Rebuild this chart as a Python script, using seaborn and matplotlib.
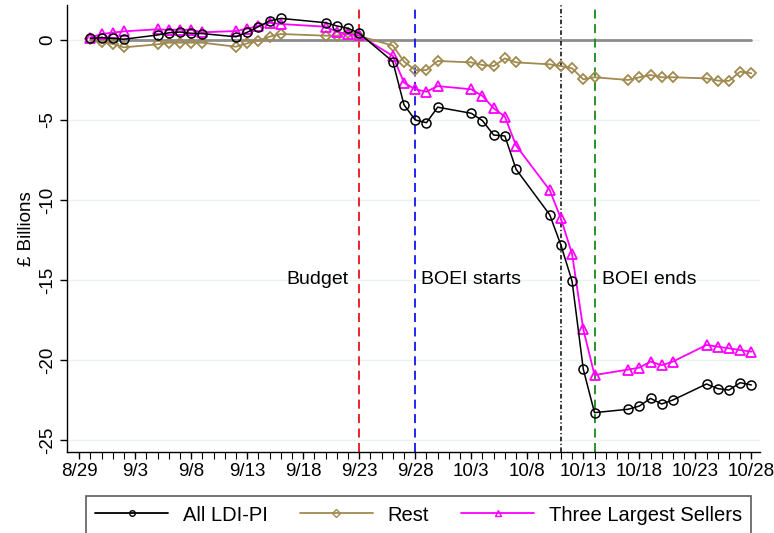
import pandas as pd
import matplotlib
matplotlib.use("Agg")
import matplotlib.pyplot as plt
from matplotlib.lines import Line2D
import seaborn as sns

YEAR = 2022

dates = ["8/30", "8/31", "9/1", "9/2", "9/5", "9/6", "9/7", "9/8", "9/9",
         "9/12", "9/13", "9/14", "9/15", "9/16", "9/20", "9/21", "9/22", "9/23",
         "9/26", "9/27", "9/28", "9/29", "9/30", "10/3", "10/4", "10/5", "10/6",
         "10/7", "10/10", "10/11", "10/12", "10/13", "10/14", "10/17", "10/18",
         "10/19", "10/20", "10/21", "10/24", "10/25", "10/26", "10/27", "10/28"]

all_ldi = [0.1, 0.15, 0.1, 0.05, 0.31, 0.45, 0.5, 0.42, 0.4,
           0.2, 0.48, 0.83, 1.19, 1.35, 1.08, 0.88, 0.73, 0.42,
           -1.35, -4.06, -5.0, -5.17, -4.2, -4.58, -5.04, -5.94, -6.0,
           -8.08, -10.92, -12.81, -15.08, -20.58, -23.29, -23.08, -22.88,
           -22.4, -22.75, -22.5, -21.5, -21.79, -21.88, -21.42, -21.56]

rest = [0.04, -0.1, -0.25, -0.46, -0.27, -0.17, -0.17, -0.17, -0.17,
        -0.42, -0.21, -0.04, 0.21, 0.375, 0.27, 0.27, 0.42, 0.25,
        -0.35, -1.35, -1.88, -1.88, -1.31, -1.4, -1.56, -1.63, -1.15,
        -1.4, -1.52, -1.63, -1.77, -2.46, -2.33, -2.5, -2.33,
        -2.19, -2.33, -2.33, -2.4, -2.54, -2.56, -1.98, -2.08]

three_largest = [0.15, 0.375, 0.46, 0.54, 0.67, 0.63, 0.65, 0.63, 0.48,
                 0.56, 0.71, 0.88, 1.08, 1.0, 0.83, 0.52, 0.35, 0.3,
                 -1.0, -2.67, -3.08, -3.23, -2.88, -3.08, -3.5, -4.27, -4.79,
                 -6.6, -9.38, -11.15, -13.38, -18.08, -20.94, -20.6, -20.48,
                 -20.1, -20.33, -20.1, -19.06, -19.17, -19.27, -19.38, -19.48]

events = ["9/23", "9/28", "10/11", "10/14"]
event_labels = ["Budget", "BOEI starts", "", "BOEI ends"]

tick_labels = ["8/29", "9/3", "9/8", "9/13", "9/18", "9/23", "9/28",
               "10/3", "10/8", "10/13", "10/18", "10/23", "10/28"]


def to_date(s):
    return pd.Timestamp(f"{YEAR}/{s}")


df = pd.DataFrame({
    "date": [to_date(d) for d in dates],
    "all": all_ldi,
    "rest": rest,
    "three": three_largest,
    "zero": [0.0] * len(dates),
})

sns.set_style("white")
plt.rcParams["font.family"] = ["Liberation Sans", "DejaVu Sans"]
plt.rcParams["text.color"] = "black"
plt.rcParams["axes.labelcolor"] = "black"
plt.rcParams["xtick.color"] = "black"
plt.rcParams["ytick.color"] = "black"

fig = plt.figure(figsize=(7.74, 5.33), dpi=100)
ax = fig.add_axes([0.0866, 0.152, 0.895, 0.839])

# light gridlines
for yv in [0, -5, -10, -15, -20, -25]:
    ax.axhline(yv, color="#eaf2f3", lw=1, zorder=0)

sns.lineplot(data=df, x="date", y="zero", ax=ax, color="#8c8c8c", lw=2, zorder=1)

c_all, c_rest, c_three = "black", "#a08a50", "#ff00ff"
sns.lineplot(data=df, x="date", y="rest", ax=ax, color=c_rest, lw=1.3,
             marker="D", markersize=5.5, markerfacecolor="none",
             markeredgecolor=c_rest, markeredgewidth=1.3, zorder=3)
sns.lineplot(data=df, x="date", y="three", ax=ax, color=c_three, lw=1.3,
             marker="^", markersize=7, markerfacecolor="none",
             markeredgecolor=c_three, markeredgewidth=1.3, zorder=4)
sns.lineplot(data=df, x="date", y="all", ax=ax, color=c_all, lw=1.1,
             marker="o", markersize=6.5, markerfacecolor="none",
             markeredgecolor=c_all, markeredgewidth=1.1, zorder=5)

# event lines
ax.axvline(to_date(events[0]), color="#e8141c", lw=1.3, ls=(0, (5, 3)), zorder=2)
ax.axvline(to_date(events[1]), color="#1414f0", lw=1.3, ls=(0, (5, 3)), zorder=2)
ax.axvline(to_date(events[2]), color="black", lw=1.1, ls=(0, (3, 1.6, 0.8, 1.6)), zorder=2)
ax.axvline(to_date(events[3]), color="#1a8a1a", lw=1.3, ls=(0, (5, 3)), zorder=2)

ax.text(to_date(events[0]) - pd.Timedelta(days=1.0), -15, event_labels[0],
        ha="right", va="center", fontsize=14)
ax.text(to_date(events[1]) + pd.Timedelta(days=0.5), -15, event_labels[1],
        ha="left", va="center", fontsize=14)
ax.text(to_date(events[3]) + pd.Timedelta(days=0.7), -15, event_labels[3],
        ha="left", va="center", fontsize=14)

start = to_date("8/29")
ax.set_xlim(start - pd.Timedelta(days=1.08), start + pd.Timedelta(days=60.75))
ax.set_ylim(-25.75, 2.2)

ax.set_xticks([to_date(t) for t in tick_labels])
ax.set_xticklabels(tick_labels, fontsize=13.5)
ax.set_xticks(pd.date_range(start, to_date("10/28"), freq="D"), minor=True)
ax.set_yticks([0, -5, -10, -15, -20, -25])
ax.set_yticklabels(["0", "-5", "-10", "-15", "-20", "-25"], fontsize=13.5,
                   rotation=90, va="center")
ax.tick_params(axis="both", which="major", direction="out", length=5, width=1,
               color="black", bottom=True, left=True, pad=3)
ax.tick_params(axis="x", which="minor", direction="out", length=5, width=0.8,
               color="black", bottom=True)

ax.set_xlabel("")
ax.set_ylabel("£ Billions", fontsize=13.5, labelpad=3)

for side in ["top", "right"]:
    ax.spines[side].set_visible(False)
for side in ["left", "bottom"]:
    ax.spines[side].set_color("black")
    ax.spines[side].set_linewidth(1)

handles = [
    Line2D([], [], color=c_all, lw=1.3, marker="o", markersize=4,
           markerfacecolor="none", markeredgecolor=c_all),
    Line2D([], [], color=c_rest, lw=1.3, marker="D", markersize=4,
           markerfacecolor="none", markeredgecolor=c_rest),
    Line2D([], [], color=c_three, lw=1.3, marker="^", markersize=4.5,
           markerfacecolor="none", markeredgecolor=c_three),
]
leg = fig.legend(handles, ["All LDI-PI", "Rest", "Three Largest Sellers"],
                 loc="lower center", bbox_to_anchor=(0.541, -0.02), ncol=3,
                 fontsize=14.5, frameon=True, fancybox=False, handlelength=3.6,
                 columnspacing=1.6, borderpad=0.45, handletextpad=0.75)
leg.get_frame().set_edgecolor("#333333")
leg.get_frame().set_linewidth(1.2)

fig.savefig("out.png", dpi=100)
